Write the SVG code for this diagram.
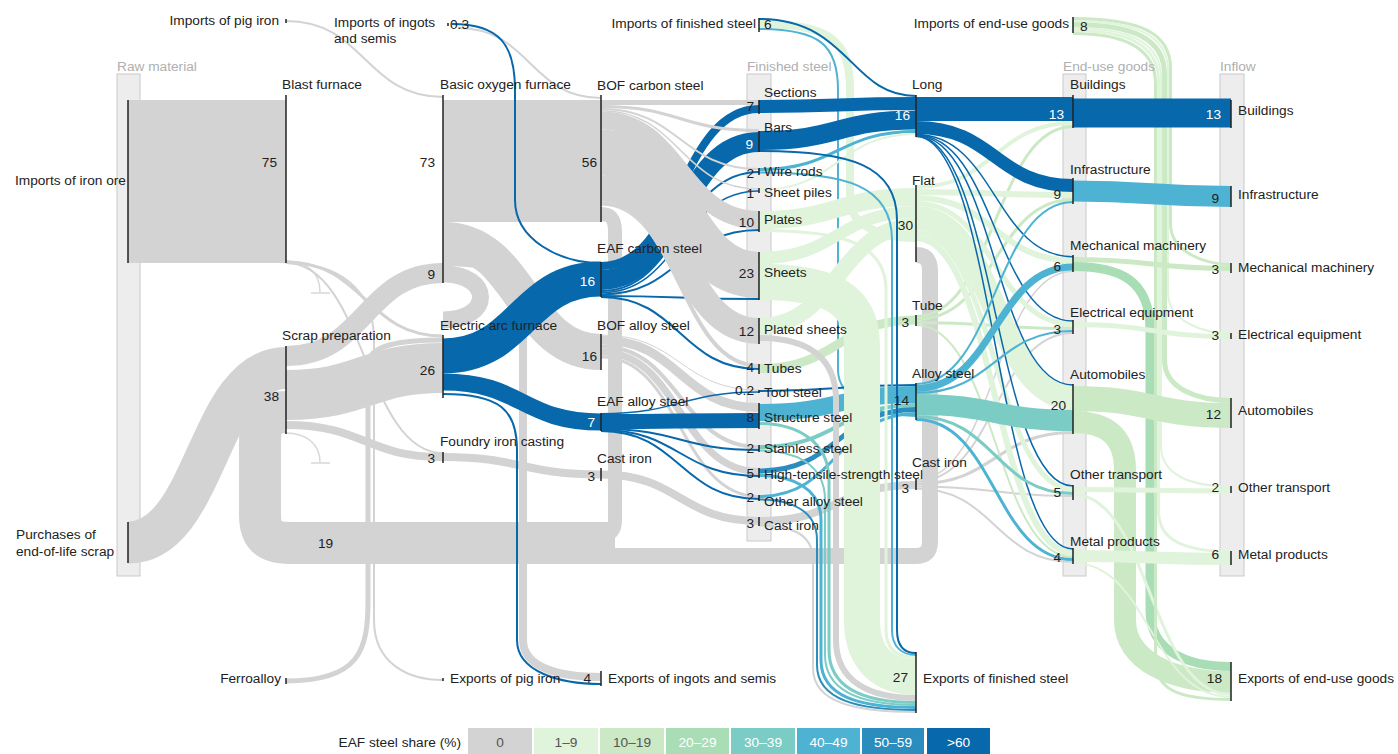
<svg xmlns="http://www.w3.org/2000/svg" width="1398" height="754" viewBox="0 0 1398 754">
<style>
text{font-family:"Liberation Sans",Arial,sans-serif;font-size:13.7px;fill:#222}
.hd{fill:#b0b0b0}
.w{fill:#fff}
.e{text-anchor:end}
.m{text-anchor:middle}
.col{fill:#ededed;stroke:#c9c9c9;stroke-width:1}
.bar{stroke:#222;stroke-width:1.5;fill:none}
path{fill:none}
.c0{stroke:#d3d3d3}.c1{stroke:#e0f3db}.c2{stroke:#cce9c6}.c3{stroke:#a8ddb5}.c4{stroke:#7bccc4}.c5{stroke:#4eb3d3}.c6{stroke:#2b8cbe}.c7{stroke:#0868ac}
.thin{stroke:#d8d8d8;stroke-width:1.5}
</style>
<rect width="1398" height="754" fill="#fff"/>
<g id="columns">
<rect class="col" x="117" y="74" width="23" height="502"/>
<rect class="col" x="747" y="74" width="24" height="467"/>
<rect class="col" x="1063" y="74" width="23" height="502"/>
<rect class="col" x="1220" y="74" width="24" height="502"/>
</g>
<g id="connectors">
<path class="c0" stroke-width="16" d="M916 255 C926 255 930 260 930 272 L930 541 C930 552 925 556 915 556 L600 556"/>
<path class="c0" stroke-width="14" d="M601 214 C612 214 615 220 615 232 L615 520 C615 532 610 535 600 535"/>
<path class="c0" stroke-width="42" d="M286 412 C262 412 260 425 260 445 L260 515 C260 535 268 543 290 543 L615 543"/>
<path class="c0" stroke-width="163" d="M128 181.5 L286 181.5"/>
<path class="c0" stroke-width="42" d="M128 542.5 C207 542.5 207 368 286 368"/>
<path class="c0" stroke-width="2" d="M286 21 C365 21 365 97 443 97"/>
<path class="thin" d="M286 261 C306 261 320 272 320 292 M311 293 H330"/>
<path class="thin" d="M286 433 C306 433 320 444 320 462 M311 463 H330"/>
<path class="c0" stroke-width="3" d="M286 262 C365 262 365 336 443 336"/>
<path class="c0" stroke-width="2" d="M286 263 C365 263 365 453 443 453"/>
<path class="c0" stroke-width="5" d="M286 681 C360 681 368 650 368 600 L368 365 C368 345 400 340 443 340"/>
<path class="c0" stroke-width="2" d="M286 263 C340 263 374 290 374 340 L374 620 C374 665 410 680 443 680"/>
<path class="c0" stroke-width="122" d="M443 161 L601 161"/>
<path class="c0" stroke-width="36" d="M443 240 C522 240 522 352 601 352"/>
<path class="c0" stroke-width="8" d="M443 262 C505 262 523 275 523 310 L523 640 C523 668 560 677 601 677"/>
<path class="c0" stroke-width="17" d="M443 274 C493 274 493 320 443 320"/>
<path class="c0" stroke-width="20" d="M286 356 C365 356 365 273 443 273"/>
<path class="c0" stroke-width="50" d="M286 395 C365 395 365 368 443 368"/>
<path class="c0" stroke-width="8" d="M286 425 C365 425 365 457 443 457"/>
<path class="c0" stroke-width="8" d="M443 457 C522 457 522 474.5 601 474.5"/>
<path class="c0" stroke-width="2" d="M458 28 C530 28 530 98 601 98"/>
<path class="c7" stroke-width="35" d="M443 356 C522 356 522 279 601 279"/>
<path class="c7" stroke-width="17" d="M443 382 C522 382 522 422 601 422"/>
<path class="c7" stroke-width="2" d="M443 394 C500 394 517 410 517 450 L517 640 C517 672 560 684 601 684"/>
<path class="c7" stroke-width="2" d="M452 24 C500 24 515 45 515 90 L515 200 C515 240 560 263 601 263"/>
<path class="c7" stroke-width="8" d="M601 266 C680 266 680 109 759 109"/>
<path class="c7" stroke-width="20" d="M601 280 C680 280 680 142 759 142"/>
<path class="c7" stroke-width="2" d="M601 291 C680 291 680 172 759 172"/>
<path class="c7" stroke-width="1.5" d="M601 292.75 C680 292.75 680 191 759 191"/>
<path class="c7" stroke-width="2" d="M601 294.5 C680 294.5 680 230 759 230"/>
<path class="c7" stroke-width="2" d="M601 296 C680 296 680 299 759 299"/>
<path class="c7" stroke-width="2" d="M601 297 C680 297 680 369 759 369"/>
<path class="c0" stroke-width="5" d="M601 102.5 L759 102.5"/>
<path class="c0" stroke-width="3" d="M601 106.5 C680 106.5 680 130.5 759 130.5"/>
<path class="c0" stroke-width="2" d="M601 109 C680 109 680 169 759 169"/>
<path class="c0" stroke-width="1.5" d="M601 110.75 C680 110.75 680 189 759 189"/>
<path class="c0" stroke-width="18" d="M601 120.5 C680 120.5 680 220 759 220"/>
<path class="c0" stroke-width="46" d="M601 152.5 C680 152.5 680 275 759 275"/>
<path class="c0" stroke-width="26" d="M601 188.5 C680 188.5 680 331 759 331"/>
<path class="c0" stroke-width="4" d="M601 203.5 C680 203.5 680 366 759 366"/>
<path class="c0" stroke-width="1" d="M601 335 C680 335 680 390 759 390"/>
<path class="c0" stroke-width="9" d="M601 340 C680 340 680 407.5 759 407.5"/>
<path class="c0" stroke-width="4" d="M601 346.5 C680 346.5 680 447 759 447"/>
<path class="c0" stroke-width="7" d="M601 352 C680 352 680 471.5 759 471.5"/>
<path class="c0" stroke-width="3" d="M601 357 C680 357 680 496.5 759 496.5"/>
<path class="c0" stroke-width="8" d="M601 474.5 C680 474.5 680 521 759 521"/>
<path class="c7" stroke-width="1.5" d="M601 413.75 C680 413.75 680 392 759 392"/>
<path class="c7" stroke-width="15" d="M601 421.5 C680 421.5 680 420.5 759 420.5"/>
<path class="c7" stroke-width="2" d="M601 429 C680 429 680 450 759 450"/>
<path class="c7" stroke-width="2" d="M601 430 C680 430 680 476 759 476"/>
<path class="c7" stroke-width="2" d="M601 431 C680 431 680 499 759 499"/>
<path class="c1" stroke-width="8" d="M759 24 C830 24 850 40 850 90 L850 200 C850 225 880 238 916 238"/>
<path class="c5" stroke-width="2" d="M759 29 C820 29 838 45 838 90 L838 370 C838 400 880 416 916 416"/>
<path class="c7" stroke-width="2" d="M759 19 C850 19 850 96 916 96"/>
<path class="c7" stroke-width="13" d="M759 106.5 C838 106.5 838 103.5 916 103.5"/>
<path class="c7" stroke-width="19" d="M759 140.5 C838 140.5 838 120 916 120"/>
<path class="c5" stroke-width="3" d="M759 169.5 C838 169.5 838 131.5 916 131.5"/>
<path class="c1" stroke-width="2" d="M759 190 C838 190 838 134 916 134"/>
<path class="c1" stroke-width="18" d="M759 220 C838 220 838 197 916 197"/>
<path class="c1" stroke-width="12" d="M759 258 C838 258 838 212 916 212"/>
<path class="c1" stroke-width="16" d="M759 326 C838 326 838 226 916 226"/>
<path class="c2" stroke-width="9" d="M759 368.5 C838 368.5 838 320 916 320"/>
<path class="c7" stroke-width="2" d="M759 391 C838 391 838 385 916 385"/>
<path class="c5" stroke-width="17" d="M759 412.5 C838 412.5 838 394.5 916 394.5"/>
<path class="c4" stroke-width="4" d="M759 447 C838 447 838 405 916 405"/>
<path class="c6" stroke-width="5" d="M759 471 C838 471 838 409.5 916 409.5"/>
<path class="c5" stroke-width="3" d="M759 496.5 C838 496.5 838 413.5 916 413.5"/>
<path class="c0" stroke-width="8" d="M759 521 C838 521 838 485 916 485"/>
<path class="c0" stroke-width="2" d="M759 525.5 C788 525.5 813 532 813 560 L813 668 C813 703 856 712 916 712"/>
<path class="c6" stroke-width="2" d="M759 499.5 C790 499.5 817 510 817 540 L817 665 C817 700 858 710 916 710"/>
<path class="c5" stroke-width="3" d="M759 475.5 C792 475.5 821 488 821 520 L821 660 C821 697 860 707.5 916 707.5"/>
<path class="c4" stroke-width="2" d="M759 450.5 C792 450.5 825 462 825 500 L825 655 C825 693 864 705 916 705"/>
<path class="c4" stroke-width="3" d="M759 423.5 C795 423.5 829 440 829 480 L829 650 C829 690 866 702.5 916 702.5"/>
<path class="c0" stroke-width="6" d="M759 338 C805 338 836 355 836 400 L836 640 C836 682 870 698 916 698"/>
<path class="c1" stroke-width="36" d="M759 282 C826 282 862 296 862 346 L862 620 C862 660 885 677 916 677"/>
<path class="c1" stroke-width="3" d="M759 230.5 C835 230.5 886 240 886 290 L886 630 C886 650 898 657.5 916 657.5"/>
<path class="c5" stroke-width="2" d="M759 172.5 C845 172.5 892 185 892 240 L892 630 C892 647 902 655 916 655"/>
<path class="c7" stroke-width="2" d="M759 151 C850 151 897 165 897 220 L897 630 C897 646 904 653 916 653"/>
<path class="c0" stroke-width="1.5" d="M916 480 C995 480 995 271.2 1073 271.2"/>
<path class="c0" stroke-width="2" d="M916 481.5 C995 481.5 995 333 1073 333"/>
<path class="c0" stroke-width="3" d="M916 484 C995 484 995 432.5 1073 432.5"/>
<path class="c0" stroke-width="2" d="M916 486.5 C995 486.5 995 496 1073 496"/>
<path class="c0" stroke-width="2" d="M916 488.5 C995 488.5 995 562 1073 562"/>
<path class="c2" stroke-width="3" d="M916 316.5 C995 316.5 995 126.5 1073 126.5"/>
<path class="c2" stroke-width="3" d="M916 319.5 C995 319.5 995 199.5 1073 199.5"/>
<path class="c2" stroke-width="3" d="M916 322.5 C995 322.5 995 328.5 1073 328.5"/>
<path class="c2" stroke-width="2" d="M916 325 C995 325 995 557 1073 557"/>
<path class="c1" stroke-width="4" d="M916 187 C995 187 995 123 1073 123"/>
<path class="c1" stroke-width="6" d="M916 192 C995 192 995 195 1073 195"/>
<path class="c1" stroke-width="6" d="M916 198 C995 198 995 260.5 1073 260.5"/>
<path class="c1" stroke-width="5" d="M916 203.5 C995 203.5 995 324.5 1073 324.5"/>
<path class="c1" stroke-width="24" d="M916 218 C995 218 995 398 1073 398"/>
<path class="c1" stroke-width="5" d="M916 232.5 C995 232.5 995 489.5 1073 489.5"/>
<path class="c1" stroke-width="6" d="M916 238 C995 238 995 553 1073 553"/>
<path class="c7" stroke-width="1.5" d="M916 134.5 C995 134.5 995 256.7 1073 256.7"/>
<path class="c7" stroke-width="1.5" d="M916 135 C995 135 995 321 1073 321"/>
<path class="c7" stroke-width="1.5" d="M916 135.5 C995 135.5 995 385 1073 385"/>
<path class="c7" stroke-width="1.5" d="M916 136 C995 136 995 486 1073 486"/>
<path class="c7" stroke-width="1.5" d="M916 136.5 C995 136.5 995 549 1073 549"/>
<path class="c5" stroke-width="2" d="M916 384 C995 384 995 202 1073 202"/>
<path class="c5" stroke-width="7" d="M916 388.5 C995 388.5 995 267 1073 267"/>
<path class="c5" stroke-width="2" d="M916 393 C995 393 995 331 1073 331"/>
<path class="c4" stroke-width="21" d="M916 404.5 C995 404.5 995 420.5 1073 420.5"/>
<path class="c4" stroke-width="3" d="M916 416.5 C995 416.5 995 493.5 1073 493.5"/>
<path class="c5" stroke-width="3" d="M916 419.5 C995 419.5 995 559.5 1073 559.5"/>
<path class="c7" stroke-width="24" d="M916 109 L1073 109"/>
<path class="c7" stroke-width="13" d="M916 127.5 C995 127.5 995 185.5 1073 185.5"/>
<path class="c3" stroke-width="9" d="M1073 266.5 C1120 266.5 1150 280 1150 330 L1150 610 C1150 650 1185 666.5 1231 666.5"/>
<path class="c2" stroke-width="22" d="M1073 422 C1105 422 1125 435 1125 470 L1125 620 C1125 660 1170 682 1231 682"/>
<path class="c1" stroke-width="3" d="M1073 494.5 C1150 494.5 1150 694.5 1231 694.5"/>
<path class="c1" stroke-width="2" d="M1073 563 C1150 563 1150 697 1231 697"/>
<path class="c2" stroke-width="3" d="M1073 33.5 C1125 33.5 1155.5 48 1155.5 83.5 L1155.5 660 C1155.5 688 1175 699.5 1231 699.5"/>
<path class="c1" stroke-width="3" d="M1073 30.5 C1128 30.5 1158.5 45 1158.5 80.5 L1158.5 511 C1158.5 539 1182 551.5 1231 551.5"/>
<path class="c1" stroke-width="2" d="M1073 28 C1131 28 1161 43 1161 78 L1161 446 C1161 474 1189 486.5 1231 486.5"/>
<path class="c2" stroke-width="5" d="M1073 24.5 C1134 24.5 1164.5 39 1164.5 74.5 L1164.5 360 C1164.5 388 1196 400.5 1231 400.5"/>
<path class="c1" stroke-width="2" d="M1073 21 C1138 21 1168 36 1168 71 L1168 293 C1168 321 1203 333.5 1231 333.5"/>
<path class="c2" stroke-width="3" d="M1073 18.5 C1140 18.5 1170.5 33 1170.5 68.5 L1170.5 224 C1170.5 252 1205 264.5 1231 264.5"/>
<path class="c7" stroke-width="29" d="M1073 113 L1231 113"/>
<path class="c5" stroke-width="21" d="M1073 191 C1152 191 1152 196.5 1231 196.5"/>
<path class="c2" stroke-width="5" d="M1073 259.5 C1152 259.5 1152 268.5 1231 268.5"/>
<path class="c1" stroke-width="5" d="M1073 324.5 C1152 324.5 1152 336.5 1231 336.5"/>
<path class="c2" stroke-width="25" d="M1073 398.5 C1152 398.5 1152 415.5 1231 415.5"/>
<path class="c1" stroke-width="5" d="M1073 489.5 C1152 489.5 1152 491 1231 491"/>
<path class="c1" stroke-width="12" d="M1073 556 C1152 556 1152 559 1231 559"/>
</g>
<g id="bars">
<path class="bar" d="M128 100V263 M128 522V563"/>
<g id="n-blast"><path class="bar" d="M286 95V263"/></g>
<g id="n-scrap"><path class="bar" d="M286 346V434"/></g>
<path class="bar" d="M286 19V23 M286 678V684"/>
<g id="n-bof"><path class="bar" d="M443 95V283"/></g>
<g id="n-eaf"><path class="bar" d="M443 335V398"/></g>
<g id="n-foundry"><path class="bar" d="M443 452V463"/></g>
<path class="bar" d="M443 678V681 M448 23V26"/>
<path class="bar" d="M601 95V222 M601 262V297 M601 334V370 M601 413V431 M601 468V481 M601 671V686"/>
<path class="bar" d="M759 18V32 M759 100V114 M759 131V152 M759 168V175 M759 188V193 M759 211V232 M759 252V300 M759 318V344 M759 364V374 M759 390V393 M759 403V429 M759 445V452 M759 468V478 M759 495V501 M759 517V526"/>
<path class="bar" d="M916 95V137 M916 185V262 M916 315V326 M916 383V420 M916 479V490 M916 652V713"/>
<path class="bar" d="M1073 17V33 M1073 95V128 M1073 178V204 M1073 255V272 M1073 320V334 M1073 384V434 M1073 485V500 M1073 548V564"/>
<path class="bar" d="M1231 100V128 M1231 186V207 M1231 263V273 M1231 333V339 M1231 398V428 M1231 486V493 M1231 551V565 M1231 662V701"/>
</g>
<g id="labels">
<text class="hd" x="117" y="71">Raw material</text>
<text class="hd" x="747" y="71">Finished steel</text>
<text class="hd" x="1063" y="71">End-use goods</text>
<text class="hd" x="1220" y="71">Inflow</text>
<text class="e" x="126" y="185">Imports of iron ore</text>
<text x="16" y="539">Purchases of</text>
<text x="16" y="556">end-of-life scrap</text>
<text class="e" x="279" y="25">Imports of pig iron</text>
<text x="334" y="27">Imports of ingots</text>
<text x="334" y="43">and semis</text>
<text x="450" y="29">0.3</text>
<text x="282" y="89">Blast furnace</text>
<text class="e" x="277" y="167">75</text>
<text x="440" y="89">Basic oxygen furnace</text>
<text class="e" x="435" y="167">73</text>
<text class="e" x="435" y="279">9</text>
<text x="282" y="340">Scrap preparation</text>
<text class="e" x="279" y="401">38</text>
<text x="440" y="330">Electric arc furnace</text>
<text class="e" x="435" y="375">26</text>
<text x="440" y="446">Foundry iron casting</text>
<text class="e" x="435" y="463">3</text>
<text x="597" y="90">BOF carbon steel</text>
<text class="e" x="597" y="167">56</text>
<text x="597" y="253">EAF carbon steel</text>
<text class="e w" x="595" y="286">16</text>
<text x="597" y="330">BOF alloy steel</text>
<text class="e" x="597" y="361">16</text>
<text x="597" y="406">EAF alloy steel</text>
<text class="e w" x="595" y="427">7</text>
<text x="597" y="463">Cast iron</text>
<text class="e" x="595" y="481">3</text>
<text class="e" x="756" y="28">Imports of finished steel</text>
<text x="764" y="29">6</text>
<text x="764" y="97">Sections</text><text class="e" x="754" y="111">7</text>
<text x="764" y="132">Bars</text><text class="e w" x="753" y="149">9</text>
<text x="764" y="176">Wire rods</text><text class="e" x="754" y="178">2</text>
<text x="764" y="197">Sheet piles</text><text class="e" x="754" y="198">1</text>
<text x="764" y="224">Plates</text><text class="e" x="754" y="227">10</text>
<text x="764" y="277">Sheets</text><text class="e" x="754" y="278">23</text>
<text x="764" y="334">Plated sheets</text><text class="e" x="754" y="336">12</text>
<text x="764" y="373">Tubes</text><text class="e" x="754" y="372">4</text>
<text x="764" y="397">Tool steel</text><text class="e" x="754" y="395">0.2</text>
<text x="764" y="422">Structure steel</text><text class="e" x="754" y="422">8</text>
<text x="764" y="453">Stainless steel</text><text class="e" x="754" y="453">2</text>
<text x="764" y="479">High-tensile-strength steel</text><text class="e" x="754" y="478">5</text>
<text x="764" y="506">Other alloy steel</text><text class="e" x="754" y="502">2</text>
<text x="764" y="530">Cast iron</text><text class="e" x="754" y="528">3</text>
<text x="912" y="89">Long</text><text class="e w" x="910" y="120">16</text>
<text x="912" y="185">Flat</text><text class="e" x="913" y="230">30</text>
<text x="912" y="310">Tube</text><text class="e" x="909" y="327">3</text>
<text x="912" y="378">Alloy steel</text><text class="e" x="909" y="405">14</text>
<text x="912" y="467">Cast iron</text><text class="e" x="909" y="493">3</text>
<text class="e" x="908" y="682">27</text>
<text x="923" y="683">Exports of finished steel</text>
<text class="e" x="1069" y="28">Imports of end-use goods</text>
<text x="1080" y="31">8</text>
<text x="1070" y="89">Buildings</text><text class="e w" x="1064" y="119">13</text>
<text x="1070" y="174">Infrastructure</text><text class="e" x="1061" y="199">9</text>
<text x="1070" y="250">Mechanical machinery</text><text class="e" x="1061" y="271">6</text>
<text x="1070" y="317">Electrical equipment</text><text class="e" x="1061" y="334">3</text>
<text x="1070" y="379">Automobiles</text><text class="e" x="1066" y="410">20</text>
<text x="1070" y="479">Other transport</text><text class="e" x="1061" y="497">5</text>
<text x="1070" y="546">Metal products</text><text class="e" x="1061" y="562">4</text>
<text x="1238" y="115">Buildings</text><text class="e w" x="1221" y="119">13</text>
<text x="1238" y="199">Infrastructure</text><text class="e" x="1219" y="203">9</text>
<text x="1238" y="272">Mechanical machinery</text><text class="e" x="1219" y="274">3</text>
<text x="1238" y="339">Electrical equipment</text><text class="e" x="1219" y="340">3</text>
<text x="1238" y="415">Automobiles</text><text class="e" x="1221" y="419">12</text>
<text x="1238" y="492">Other transport</text><text class="e" x="1219" y="492">2</text>
<text x="1238" y="559">Metal products</text><text class="e" x="1219" y="559">6</text>
<text class="e" x="1222" y="683">18</text>
<text x="1238" y="683">Exports of end-use goods</text>
<text class="e" x="281" y="683">Ferroalloy</text>
<text x="450" y="683">Exports of pig iron</text>
<text class="e" x="591" y="683">4</text>
<text x="608" y="683">Exports of ingots and semis</text>
<text x="318" y="548">19</text>
</g>
<g id="legend">
<text class="e" x="461" y="747">EAF steel share (%)</text>
<rect x="468" y="728" width="64" height="26" fill="#d3d3d3"/>
<rect x="534" y="728" width="64" height="26" fill="#e0f3db"/>
<rect x="600" y="728" width="64" height="26" fill="#cce9c6"/>
<rect x="666" y="728" width="63" height="26" fill="#a8ddb5"/>
<rect x="731" y="728" width="64" height="26" fill="#7bccc4"/>
<rect x="797" y="728" width="63" height="26" fill="#4eb3d3"/>
<rect x="862" y="728" width="62" height="26" fill="#2b8cbe"/>
<rect x="927" y="728" width="63" height="26" fill="#0868ac"/>
<text class="m" x="500" y="747" style="fill:#555">0</text>
<text class="m" x="566" y="747" style="fill:#555">1–9</text>
<text class="m" x="632" y="747" style="fill:#555">10–19</text>
<text class="m w" x="697.5" y="747">20–29</text>
<text class="m w" x="763" y="747">30–39</text>
<text class="m w" x="828.5" y="747">40–49</text>
<text class="m w" x="893" y="747">50–59</text>
<text class="m w" x="958.5" y="747">&gt;60</text>
</g>
</svg>
